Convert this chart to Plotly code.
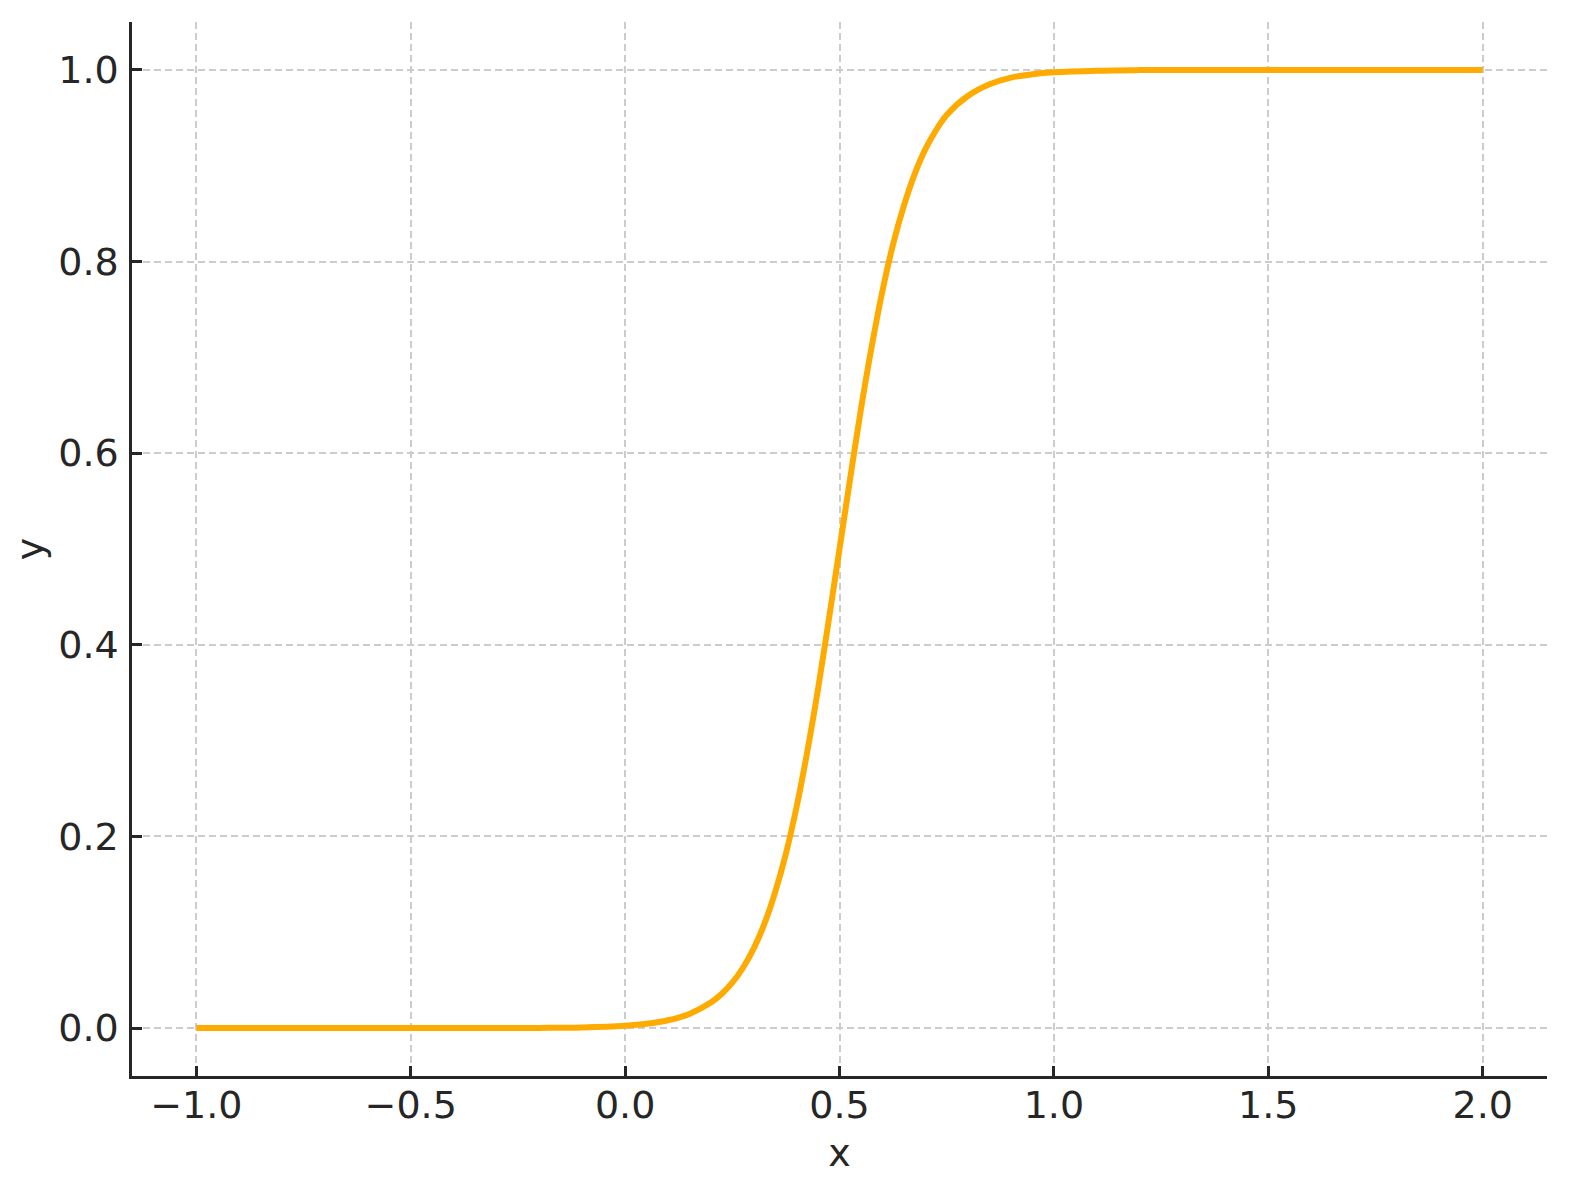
import plotly.graph_objects as go

# Values
x_vals = [-1.0, -0.75, -0.5, -0.3, -0.2, -0.1, 0.0, 0.05, 0.1, 0.15, 0.2, 0.225, 0.25, 0.275,
          0.3, 0.325, 0.35, 0.375, 0.4, 0.425, 0.45, 0.475, 0.5, 0.525, 0.55, 0.575,
          0.6, 0.625, 0.65, 0.675, 0.7, 0.725, 0.75, 0.8, 0.85, 0.9, 0.95, 1.0,
          1.1, 1.2, 1.35, 1.5, 1.75, 2.0]
y_vals = [0.0, 0.0, 0.0, 0.00005, 0.0002, 0.0007, 0.0025, 0.0045, 0.0082, 0.0148, 0.0266,
          0.0356, 0.0474, 0.0630, 0.0832, 0.109, 0.142, 0.182, 0.231, 0.289, 0.354,
          0.426, 0.5, 0.574, 0.646, 0.711, 0.769, 0.818, 0.858, 0.891, 0.917, 0.937,
          0.953, 0.973, 0.985, 0.992, 0.9955, 0.9975, 0.9992, 0.9998, 1.0, 1.0, 1.0, 1.0]

x_ticks = [-1.0, -0.5, 0.0, 0.5, 1.0, 1.5, 2.0]
x_tick_labels = ["\u22121.0", "\u22120.5", "0.0", "0.5", "1.0", "1.5", "2.0"]
y_ticks = [0.0, 0.2, 0.4, 0.6, 0.8, 1.0]
y_tick_labels = ["0.0", "0.2", "0.4", "0.6", "0.8", "1.0"]

txt = "#262626"
font = dict(family="DejaVu Sans", size=38, color=txt)

fig = go.Figure()
fig.add_trace(go.Scatter(
    x=x_vals, y=y_vals, mode="lines",
    line=dict(color="#FFAA00", width=6, shape="spline", smoothing=1.0),
    showlegend=False,
))

axis_common = dict(
    showline=True, linecolor=txt, linewidth=2.5, mirror=False,
    ticks="inside", ticklen=10, tickwidth=2.5, tickcolor=txt,
    showgrid=True, gridcolor="#cccccc", griddash="7px,4px", gridwidth=1.6,
    zeroline=False, tickfont=font, automargin=False, layer="above traces",
)

# the page body has an 8px margin, so the figure is offset by (8, 8)
fig.update_layout(
    width=1555, height=1167,
    margin=dict(l=124, r=16, t=14, b=99),
    paper_bgcolor="white", plot_bgcolor="white",
    font=font,
    xaxis=dict(range=[-1.15, 2.15], tickvals=x_ticks, ticktext=x_tick_labels,
               title=dict(text="x", font=font, standoff=20), ticklabelstandoff=-6,
               **axis_common),
    yaxis=dict(range=[-0.05, 1.05], tickvals=y_ticks, ticktext=y_tick_labels,
               title=dict(text="y", font=font, standoff=11), ticklabelstandoff=3,
               **axis_common),
)

fig.write_html("out.html")
